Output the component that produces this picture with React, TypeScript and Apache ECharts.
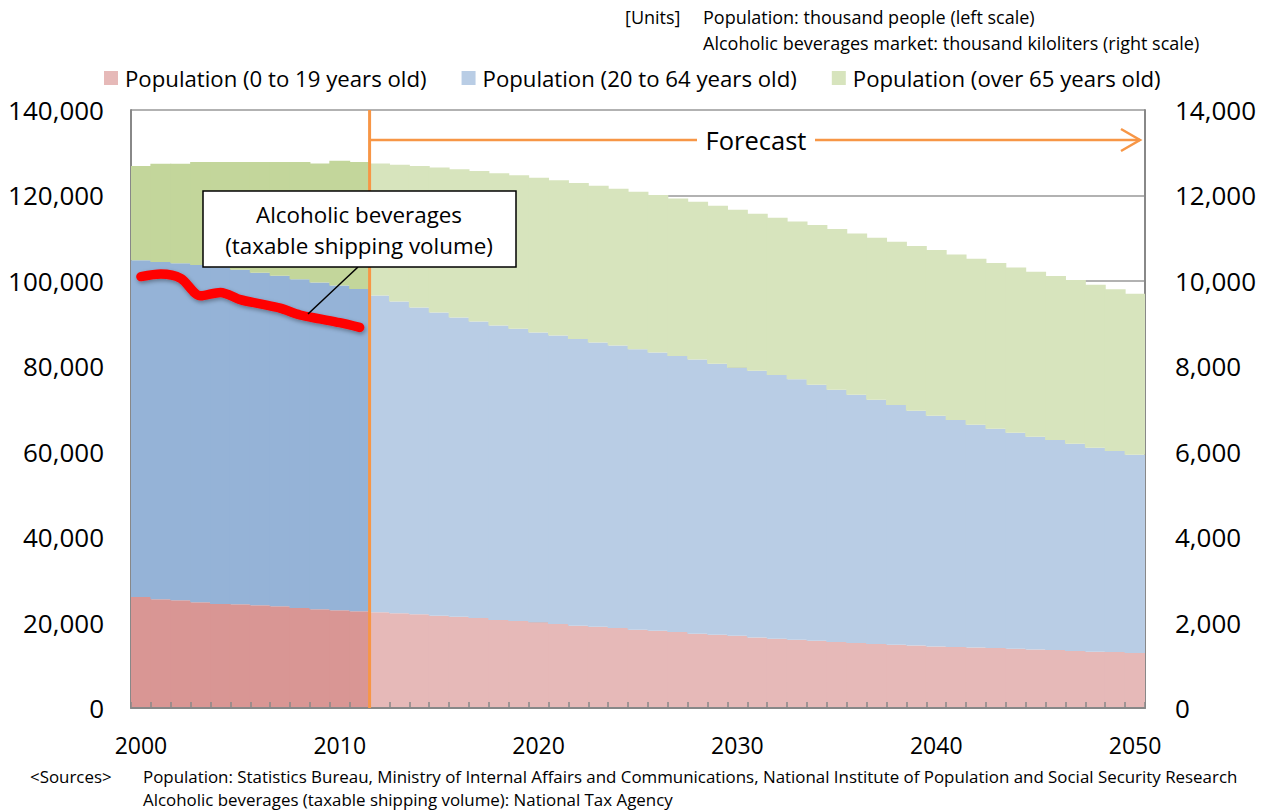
import React, { useEffect, useRef } from "react";
import * as echarts from "echarts";

// Years on the category axis
const years: string[] = [];
for (let y = 2000; y <= 2050; y++) years.push(String(y));

// Population by age group, thousand people (left scale)
const pop0to19 = [
  25980, 25440, 25210, 24740, 24340, 24270, 24040, 23800, 23400, 23100, 22860, 22630,
  22400, 22160, 21930, 21620, 21380, 21060, 20590, 20350, 20050, 19650, 19280, 19040,
  18710, 18340, 18100, 17780, 17400, 17170, 16930, 16530, 16230, 15990, 15760, 15430,
  15200, 14960, 14820, 14660, 14420, 14260, 14190, 14030, 13870, 13720, 13560, 13330,
  13170, 13090, 12860,
];
const pop20to64 = [
  78820, 78960, 78890, 78960, 78860, 78330, 77860, 77400, 77000, 76500, 76040, 75470,
  74170, 73000, 71820, 70960, 70030, 69410, 68940, 68410, 67840, 67540, 67130, 66510,
  66130, 65660, 65100, 64650, 64160, 63450, 62750, 62450, 61740, 60970, 59940, 59100,
  58150, 57220, 56120, 54940, 54010, 53160, 52130, 51350, 50570, 49780, 49170, 48530,
  47750, 47060, 46420,
];
const pop65over = [
  22100, 23000, 23300, 24100, 24600, 25200, 25900, 26600, 27400, 27900, 29200, 29700,
  30930, 32040, 33150, 33970, 34740, 35230, 35670, 35940, 36260, 36360, 36490, 36700,
  36710, 36850, 36900, 36870, 36940, 36980, 36970, 36740, 36810, 36960, 37370, 37610,
  37760, 37920, 38220, 38550, 38780, 38760, 38850, 38780, 38690, 38620, 38380, 38320,
  38160, 37910, 37680,
];
// Alcoholic beverages, taxable shipping volume, thousand kiloliters (right scale)
const alcohol = [10100, 10160, 10060, 9650, 9730, 9560, 9460, 9360, 9200, 9110, 9020, 8910];

// Number of years with actual (non-forecast) figures
const actualCount = 12;

const FONT = "Open Sans";

const GRID = { left: 131, top: 110, right: 121, bottom: 104 };
const W = 1266;
const H = 812;

const lightColors = ["#E6B9B8", "#B9CDE5", "#D7E4BD"];
const darkColors = ["#D99694", "#95B3D7", "#C3D69B"];

// Actual years use the deeper shade, forecast years the lighter one.
function withShade(values: number[], idx: number) {
  return values.map((v, i) => ({
    value: v,
    itemStyle: { color: i < actualCount ? darkColors[idx] : lightColors[idx] },
  }));
}

export default function App() {
  const ref = useRef<HTMLDivElement>(null);

  useEffect(() => {
    if (!ref.current) return;
    const chart = echarts.init(ref.current, undefined, { renderer: "svg" });

    const plotW = W - GRID.left - GRID.right;
    const band = plotW / years.length;
    // bars slightly wider than the band so neighbouring columns overlap and leave no seams
    const barW = band + 1;
    const forecastX = GRID.left + band * actualCount;
    const arrowY = 140;
    const arrowEnd = GRID.left + plotW - 5;

    const fmt = (v: number) => v.toLocaleString("en-US");

    const barBase = {
      type: "bar",
      stack: "pop",
      barWidth: barW,
    };

    chart.setOption({
      animation: false,
      backgroundColor: "#ffffff",
      textStyle: { fontFamily: FONT, color: "#000" },
      grid: { ...GRID, containLabel: false },
      legend: {
        left: 99,
        top: 62,
        itemWidth: 14,
        itemHeight: 14,
        itemGap: 35,
        icon: "rect",
        textStyle: { fontFamily: FONT, fontSize: 22.2, color: "#000", padding: [0, 0, 0, 2] },
        data: ["Population (0 to 19 years old)", "Population (20 to 64 years old)", "Population (over 65 years old)"],
      },
      xAxis: {
        type: "category",
        data: years,
        boundaryGap: true,
        axisLine: { show: true, lineStyle: { color: "#888", width: 2 } },
        axisTick: { show: true, inside: true, length: 6, interval: 0, lineStyle: { color: "#888", width: 1.5 } },
        axisLabel: { interval: 9, fontSize: 23, margin: 25, color: "#000", fontFamily: FONT },
        splitLine: { show: false },
        z: 5,
      },
      yAxis: [
        {
          type: "value",
          min: 0,
          max: 140000,
          interval: 20000,
          axisLine: { show: true, lineStyle: { color: "#888", width: 2 } },
          axisTick: { show: false },
          axisLabel: { fontSize: 26, margin: 27, color: "#000", fontFamily: FONT, formatter: fmt },
          splitLine: { show: true, lineStyle: { color: "#999", width: 1.5 } },
        },
        {
          type: "value",
          min: 0,
          max: 14000,
          interval: 2000,
          position: "right",
          axisLine: { show: true, lineStyle: { color: "#888", width: 2 } },
          axisTick: { show: false },
          axisLabel: { fontSize: 26, margin: 30, color: "#000", fontFamily: FONT, formatter: fmt },
          splitLine: { show: false },
        },
      ],
      series: [
        {
          ...barBase,
          name: "Population (0 to 19 years old)",
          itemStyle: { color: lightColors[0] },
          data: withShade(pop0to19, 0),
        },
        {
          ...barBase,
          name: "Population (20 to 64 years old)",
          itemStyle: { color: lightColors[1] },
          data: withShade(pop20to64, 1),
        },
        {
          ...barBase,
          name: "Population (over 65 years old)",
          itemStyle: { color: lightColors[2] },
          data: withShade(pop65over, 2),
        },
        {
          name: "Alcoholic beverages",
          type: "line",
          yAxisIndex: 1,
          data: alcohol,
          smooth: 0.3,
          showSymbol: false,
          z: 10,
          lineStyle: {
            color: "#FF0000",
            width: 9.5,
            cap: "round",
            join: "round",
            shadowColor: "rgba(0,0,0,0.35)",
            shadowBlur: 4,
            shadowOffsetX: 1,
            shadowOffsetY: 2,
          },
        },
      ],
      graphic: [
        // forecast divider
        {
          type: "line",
          z: 20,
          shape: { x1: forecastX, y1: GRID.top, x2: forecastX, y2: H - GRID.bottom },
          style: { stroke: "#F79646", lineWidth: 3 },
        },
        {
          type: "line",
          z: 20,
          shape: { x1: forecastX, y1: arrowY, x2: 697, y2: arrowY },
          style: { stroke: "#F79646", lineWidth: 2.5 },
        },
        {
          type: "line",
          z: 20,
          shape: { x1: 815, y1: arrowY, x2: arrowEnd, y2: arrowY },
          style: { stroke: "#F79646", lineWidth: 2.5 },
        },
        {
          type: "polyline",
          z: 20,
          shape: { points: [[arrowEnd - 19, arrowY - 11], [arrowEnd, arrowY], [arrowEnd - 19, arrowY + 11]] },
          style: { stroke: "#F79646", lineWidth: 2.5, fill: "none" },
        },
        {
          type: "text",
          z: 20,
          x: 756,
          y: arrowY,
          style: { text: "Forecast", fontFamily: FONT, fontSize: 25.5, fill: "#000", align: "center", verticalAlign: "middle" },
        },
        // callout for the alcohol line
        {
          type: "line",
          z: 21,
          shape: { x1: 358, y1: 267, x2: 308, y2: 314 },
          style: { stroke: "#000", lineWidth: 1.5 },
        },
        {
          type: "rect",
          z: 21,
          shape: { x: 203, y: 191, width: 313, height: 76 },
          style: { fill: "#fff", stroke: "#000", lineWidth: 1.5 },
        },
        {
          type: "text",
          z: 22,
          x: 359,
          y: 214,
          style: { text: "Alcoholic beverages", fontFamily: FONT, fontSize: 22.4, fill: "#000", align: "center", verticalAlign: "middle" },
        },
        {
          type: "text",
          z: 22,
          x: 359,
          y: 245,
          style: { text: "(taxable shipping volume)", fontFamily: FONT, fontSize: 22.4, fill: "#000", align: "center", verticalAlign: "middle" },
        },
        // units
        {
          type: "text",
          x: 625,
          y: 17,
          style: { text: "[Units]", fontFamily: FONT, fontSize: 18, fill: "#000", verticalAlign: "middle" },
        },
        {
          type: "text",
          x: 703,
          y: 17,
          style: { text: "Population: thousand people (left scale)", fontFamily: FONT, fontSize: 18, fill: "#000", verticalAlign: "middle" },
        },
        {
          type: "text",
          x: 703,
          y: 43,
          style: { text: "Alcoholic beverages market: thousand kiloliters (right scale)", fontFamily: FONT, fontSize: 18, fill: "#000", verticalAlign: "middle" },
        },
        // sources
        {
          type: "text",
          x: 30,
          y: 776,
          style: { text: "<Sources>", fontFamily: FONT, fontSize: 16.9, fill: "#000", verticalAlign: "middle" },
        },
        {
          type: "text",
          x: 143,
          y: 776,
          style: {
            text: "Population: Statistics Bureau, Ministry of Internal Affairs and Communications, National Institute of Population and Social Security Research",
            fontFamily: FONT,
            fontSize: 16.9,
            fill: "#000",
            verticalAlign: "middle",
          },
        },
        {
          type: "text",
          x: 143,
          y: 799,
          style: {
            text: "Alcoholic beverages (taxable shipping volume): National Tax Agency",
            fontFamily: FONT,
            fontSize: 16.9,
            fill: "#000",
            verticalAlign: "middle",
          },
        },
      ],
    });

    return () => chart.dispose();
  }, []);

  return <div ref={ref} style={{ position: "absolute", left: 0, top: 0, width: W, height: H }} />;
}
